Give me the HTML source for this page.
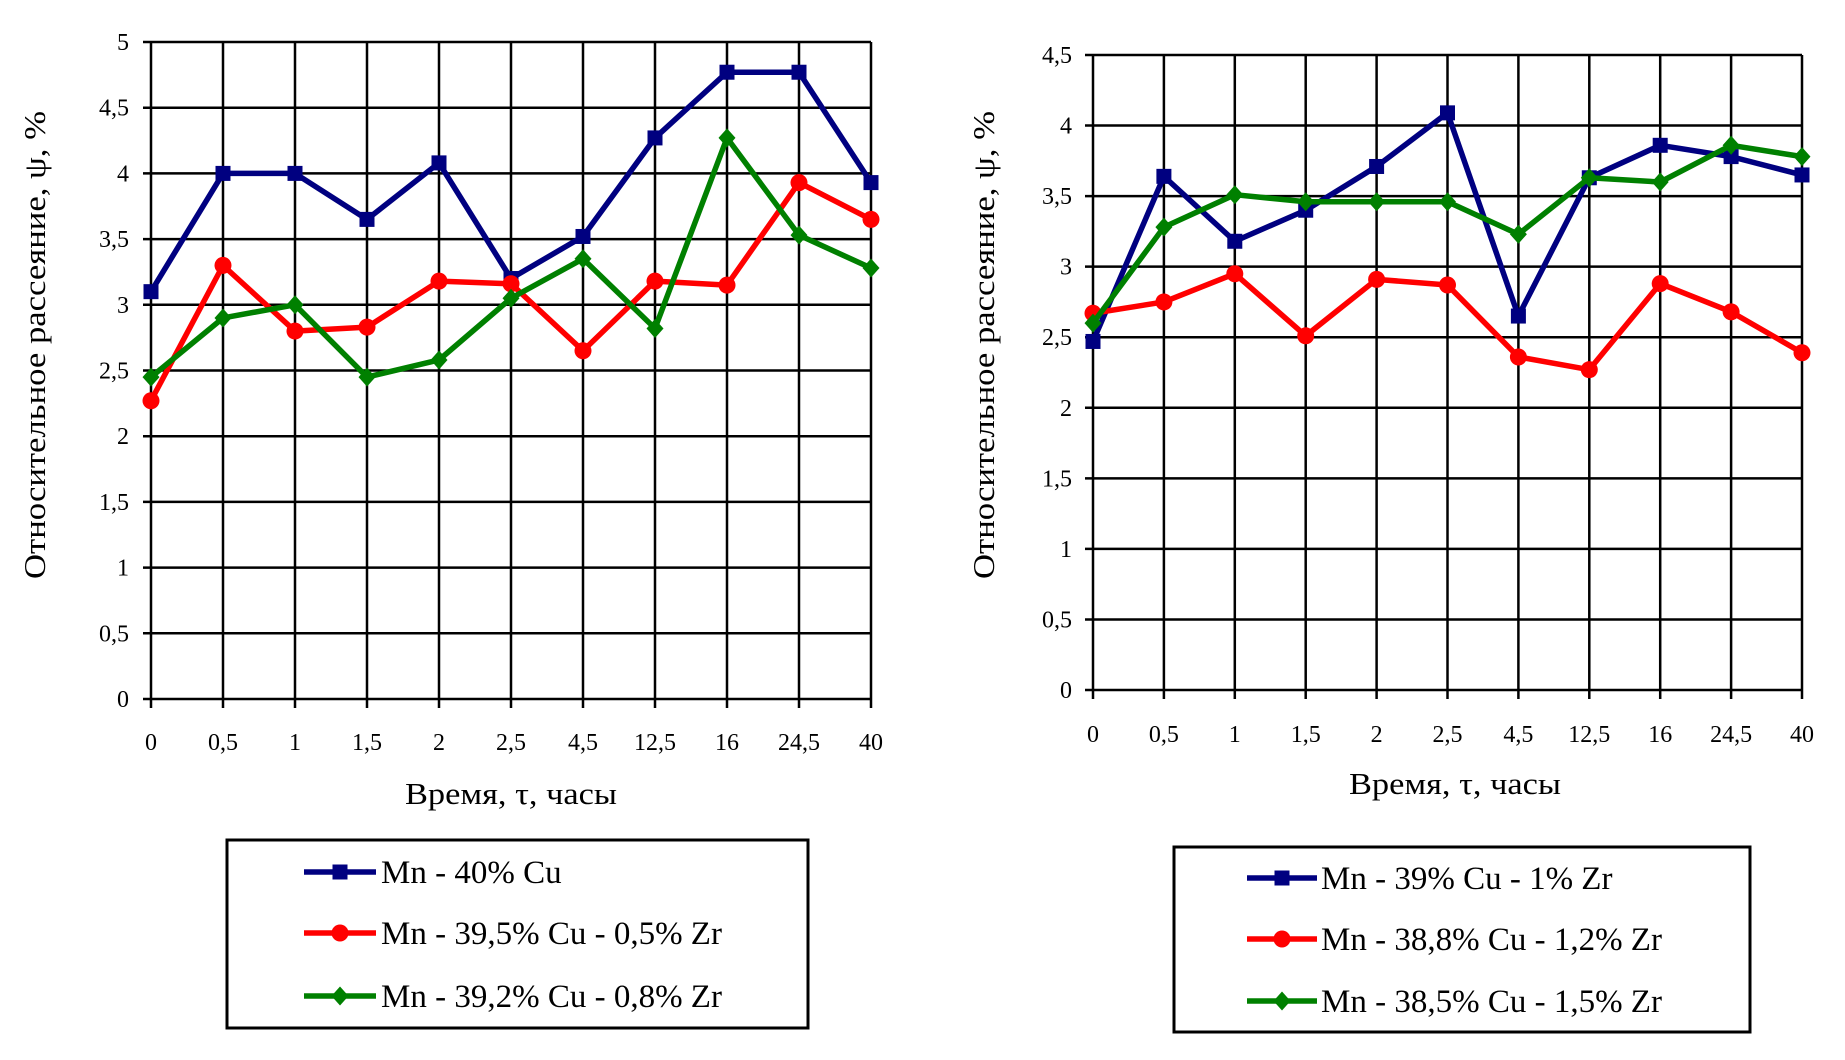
<!DOCTYPE html>
<html><head><meta charset="utf-8"><style>
html,body{margin:0;padding:0;background:#fff;}
svg{display:block;font-family:"Liberation Serif","DejaVu Serif",serif;}
svg text{font-family:"Liberation Serif","DejaVu Serif",serif;}
</style></head><body>
<svg id="chart" width="1845" height="1060" viewBox="0 0 1845 1060" xmlns="http://www.w3.org/2000/svg"></svg>
<script>
const categories = ["0","0,5","1","1,5","2","2,5","4,5","12,5","16","24,5","40"];
const leftYTicks = ["0","0,5","1","1,5","2","2,5","3","3,5","4","4,5","5"];
const rightYTicks = ["0","0,5","1","1,5","2","2,5","3","3,5","4","4,5"];
const leftBlue = [3.1,4.0,4.0,3.65,4.08,3.2,3.52,4.27,4.77,4.77,3.93];
const leftRed = [2.27,3.3,2.8,2.83,3.18,3.16,2.65,3.18,3.15,3.93,3.65];
const leftGreen = [2.45,2.9,3.0,2.45,2.58,3.05,3.35,2.82,4.27,3.53,3.28];
const rightBlue = [2.47,3.64,3.18,3.4,3.71,4.09,2.65,3.63,3.86,3.78,3.65];
const rightRed = [2.67,2.75,2.95,2.51,2.91,2.87,2.36,2.27,2.88,2.68,2.39];
const rightGreen = [2.6,3.28,3.51,3.46,3.46,3.46,3.23,3.63,3.6,3.86,3.78];
const leftNames = ["Mn - 40% Cu","Mn - 39,5% Cu - 0,5% Zr","Mn - 39,2% Cu - 0,8% Zr"];
const rightNames = ["Mn - 39% Cu - 1% Zr","Mn - 38,8% Cu - 1,2% Zr","Mn - 38,5% Cu - 1,5% Zr"];

const NS="http://www.w3.org/2000/svg";
const FONT='"Liberation Serif","DejaVu Serif",serif';
const svg=document.getElementById('chart');
function mk(tag,attrs,parent){const e=document.createElementNS(NS,tag);for(const k in attrs)e.setAttribute(k,attrs[k]);(parent||svg).appendChild(e);return e;}
const colors=["#000080","#ff0000","#008000"];
const markers=["square","circle","diamond"];

function marker(g,shape,x,y,c,s){
  let m;
  if(shape==="square") m=mk('rect',{x:x-s/2,y:y-s/2,width:s,height:s,fill:c},g);
  else if(shape==="circle") m=mk('circle',{cx:x,cy:y,r:s/2+1,fill:c},g);
  else m=mk('polygon',{points:`${x},${y-s/2-2} ${x+s/2+1},${y} ${x},${y+s/2+2} ${x-s/2-1},${y}`,fill:c},g);
  return m;
}

function drawChart(cfg){
  const g=mk('g',{});
  
  
  const n=categories.length;
  const xs=i=>cfg.x0+(cfg.x1-cfg.x0)*i/(n-1);
  const ys=v=>cfg.y0-(cfg.y0-cfg.y1)*v/cfg.ymax;
  cfg.yTicks.forEach((t,i)=>{
    const v=parseFloat(t.replace(',','.'));
    const y=ys(v);
    const l=mk('line',{x1:cfg.x0-8,y1:y,x2:cfg.x1,y2:y,stroke:"#000","stroke-width":2.5},g);
    
    
    const tx=mk('text',{x:cfg.ylabX,y:y+8,"text-anchor":"end","font-size":24,"font-family":FONT,fill:"#000"},g);
    tx.textContent=t;
    
    
  });
  categories.forEach((c,i)=>{
    const x=xs(i);
    const l=mk('line',{x1:x,y1:cfg.y1,x2:x,y2:cfg.y0+9,stroke:"#000","stroke-width":2.5},g);
    
    
    const tx=mk('text',{x:x,y:cfg.xlabY,"text-anchor":"middle","font-size":24,"font-family":FONT,fill:"#000"},g);
    tx.textContent=c;
    
    
  });
  const xt=mk('text',{x:cfg.xtX,y:cfg.xtY,"text-anchor":"middle","font-size":31,"font-family":FONT,fill:"#000",textLength:212,lengthAdjust:"spacingAndGlyphs"},g);
  xt.textContent="Время, τ, часы";
  
  
  const yt=mk('text',{x:0,y:0,"text-anchor":"middle","font-size":31,"font-family":FONT,fill:"#000",textLength:468,lengthAdjust:"spacingAndGlyphs",transform:`translate(${cfg.ytX},${cfg.ytY}) rotate(-90)`},g);
  yt.textContent="Относительное рассеяние, ψ, %";
  
  
  cfg.series.forEach((vals,si)=>{
    const sg=mk('g',{},g);
    
    
    const pts=vals.map((v,i)=>xs(i)+","+ys(v)).join(" ");
    const pl=mk('polyline',{points:pts,fill:"none",stroke:colors[si],"stroke-width":5.5,"stroke-linejoin":"round"},sg);
    
    
    vals.forEach((v,i)=>{
      const m=marker(sg,markers[si],xs(i),ys(v),colors[si],15);
      
      
    });
  });
  const L=cfg.legend;
  const lg=mk('g',{},g);
  
  
  const box=mk('rect',{x:L.x,y:L.y,width:L.w,height:L.h,fill:"#fff",stroke:"#000","stroke-width":3},lg);
  
  
  cfg.names.forEach((nm,i)=>{
    const y=L.rows[i];
    const eg=mk('g',{},lg);
    
    
    mk('line',{x1:L.lx1,y1:y,x2:L.lx2,y2:y,stroke:colors[i],"stroke-width":5.5},eg);
    marker(eg,markers[i],(L.lx1+L.lx2)/2,y,colors[i],15);
    const t=mk('text',{x:L.tx,y:y+11,"font-size":33,"font-family":FONT,fill:"#000"},eg);
    t.textContent=nm;
  });
}

drawChart({name:"left-chart",x0:151,x1:871,y0:699,y1:42,ymax:5,yTicks:leftYTicks,
  ylabX:129,xlabY:750,xtX:511,xtY:804,ytX:45,ytY:345,
  series:[leftBlue,leftRed,leftGreen],names:leftNames,
  legend:{x:227,y:840,w:581,h:188,rows:[872,933,996],lx1:304,lx2:376,tx:381}});
drawChart({name:"right-chart",x0:1093,x1:1802,y0:690,y1:55,ymax:4.5,yTicks:rightYTicks,
  ylabX:1072,xlabY:742,xtX:1455,xtY:794,ytX:994,ytY:345,
  series:[rightBlue,rightRed,rightGreen],names:rightNames,
  legend:{x:1174,y:847,w:576,h:185,rows:[878,939,1001],lx1:1247,lx2:1317,tx:1321}});
</script>
</body></html>
